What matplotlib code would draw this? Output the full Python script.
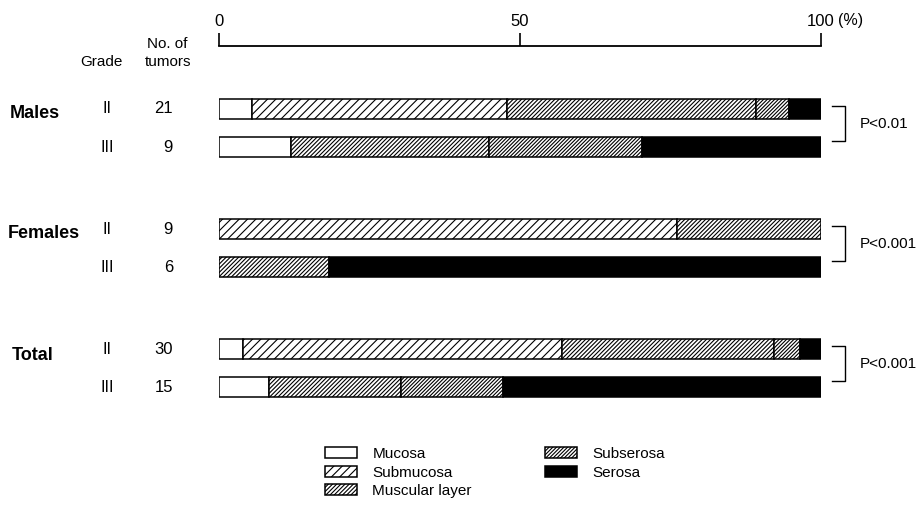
import numpy as np
import matplotlib
matplotlib.use("Agg")
import matplotlib.pyplot as plt
from matplotlib.patches import Patch
from matplotlib.lines import Line2D

plt.rcParams["font.family"] = ["Liberation Sans", "DejaVu Sans"]
plt.rcParams["hatch.linewidth"] = 0.8

# rows: (group, grade, n)
groups = ["Males", "Females", "Total"]
grades = ["II", "III", "II", "III", "II", "III"]
n_tumors = ["21", "9", "9", "6", "30", "15"]
pvalues = ["P<0.01", "P<0.001", "P<0.001"]

layers = ["Mucosa", "Submucosa", "Muscular layer", "Subserosa", "Serosa"]
# percent of tumors by deepest invasion
mucosa    = [5.5, 11.9,  0.0,  0.0,  4.0,  8.3]
submucosa = [42.4, 0.0, 76.1,  0.0, 53.0,  0.0]
muscular  = [41.3, 32.9, 23.9, 18.2, 35.2, 21.9]
subserosa = [5.5, 25.5,  0.0,  0.0,  4.3, 16.9]
serosa    = [5.3, 29.7,  0.0, 81.8,  3.5, 52.9]

W, H = 921, 517
fig = plt.figure(figsize=(W / 100, H / 100), dpi=100)

def fx(px):
    return px / W

def fy(py):
    return 1 - py / H

# axis spans 0..100 % between x=219 and x=821 px, line at y=46 px
ax = fig.add_axes([fx(219), 0, fx(821) - fx(219), fy(46)])
ax.set_xlim(0, 100)
ax.set_ylim(H, 46)

row_y = np.array([109, 147, 229, 267, 349, 387])
bar_h = 20

styles = [
    dict(facecolor="white", hatch=None),
    dict(facecolor="white", hatch="////"),
    dict(facecolor="white", hatch="////////"),
    dict(facecolor="white", hatch="/////////"),
    dict(facecolor="black", hatch=None),
]
series = [mucosa, submucosa, muscular, subserosa, serosa]

left = np.zeros(len(row_y))
for vals, st in zip(series, styles):
    vals = np.array(vals)
    m = vals > 0
    ax.barh(row_y[m], vals[m], left=left[m], height=bar_h,
            facecolor=st["facecolor"], hatch=st["hatch"],
            edgecolor="black", linewidth=1.1)
    left += vals

for s in ["left", "right", "bottom"]:
    ax.spines[s].set_visible(False)
ax.spines["top"].set_linewidth(1.3)
ax.xaxis.tick_top()
ax.set_xticks([0, 50, 100])
ax.set_xticklabels(["0", "50", "100"])
ax.tick_params(axis="x", direction="out", length=9.5, width=1.2,
               pad=3, labelsize=12)
ax.set_yticks([])
fig.text(fx(838), fy(20), "(%)", fontsize=11.5, ha="left", va="center")

# header texts
fig.text(fx(101), fy(62), "Grade", fontsize=11, ha="center", va="center")
fig.text(fx(167), fy(44), "No. of", fontsize=11, ha="center", va="center")
fig.text(fx(168), fy(62), "tumors", fontsize=11, ha="center", va="center")

# group labels
for g, gy, gx in zip(groups, [113, 233, 356], [10, 8, 12]):
    fig.text(fx(gx), fy(gy), g, fontsize=13, fontweight="bold",
             ha="left", va="center")

for yy, gr, n in zip(row_y, grades, n_tumors):
    fig.text(fx(107), fy(yy), gr, fontsize=11.5, ha="center", va="center")
    fig.text(fx(173), fy(yy), n, fontsize=12, ha="right", va="center")

# significance brackets
for i, p in enumerate(pvalues):
    y1 = row_y[2 * i] - 3
    y2 = row_y[2 * i + 1] - 6
    fig.add_artist(Line2D([fx(832), fx(845), fx(845), fx(832)],
                          [fy(y1), fy(y1), fy(y2), fy(y2)],
                          color="black", linewidth=1.0))
    fig.text(fx(860), fy((y1 + y2) / 2), p, fontsize=11,
             ha="left", va="center")

# legend
handles = [Patch(facecolor=st["facecolor"], hatch=st["hatch"],
                 edgecolor="black", linewidth=1.1) for st in styles]
fig.legend(handles, layers, ncol=2, loc="upper left",
           bbox_to_anchor=(fx(325), fy(447)), frameon=False,
           fontsize=11, handlelength=2.1, handleheight=0.75,
           handletextpad=1.0, columnspacing=4.8, labelspacing=0.3,
           borderpad=0, borderaxespad=0)

fig.savefig("out.png", dpi=100)
